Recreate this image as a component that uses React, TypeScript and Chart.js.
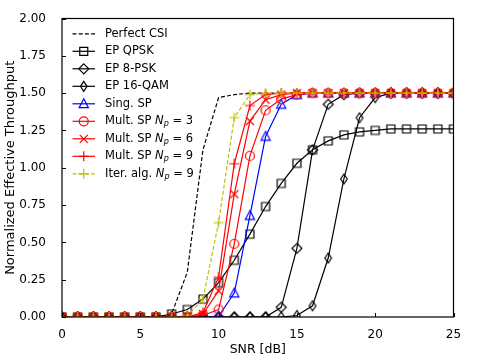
import React, { useEffect, useRef } from "react";
import { Chart, registerables } from "chart.js";

Chart.register(...registerables);

// ---------------- data ----------------
const snr = [0, 1, 2, 3, 4, 5, 6, 7, 8, 9, 10, 11, 12, 13, 14, 15, 16, 17, 18, 19, 20, 21, 22, 23, 24, 25];

const perfectCSI = [0, 0, 0, 0, 0, 0, 0, 0.02, 0.3, 1.12, 1.47, 1.49, 1.5, 1.5, 1.5, 1.5, 1.5, 1.5, 1.5, 1.5, 1.5, 1.5, 1.5, 1.5, 1.5, 1.5];
const epQPSK = [0, 0, 0, 0, 0, 0, 0, 0.02, 0.05, 0.12, 0.23, 0.38, 0.555, 0.74, 0.895, 1.03, 1.12, 1.18, 1.22, 1.24, 1.25, 1.26, 1.26, 1.26, 1.26, 1.26];
const ep8PSK = [0, 0, 0, 0, 0, 0, 0, 0, 0, 0, 0, 0, 0, 0, 0.065, 0.46, 1.12, 1.425, 1.49, 1.5, 1.5, 1.5, 1.5, 1.5, 1.5, 1.5];
const ep16QAM = [0, 0, 0, 0, 0, 0, 0, 0, 0, 0, 0, 0, 0, 0, 0, 0.01, 0.075, 0.395, 0.925, 1.335, 1.47, 1.5, 1.5, 1.5, 1.5, 1.5];
const singSP = [0, 0, 0, 0, 0, 0, 0, 0, 0, 0, 0.005, 0.16, 0.68, 1.21, 1.425, 1.49, 1.5, 1.5, 1.5, 1.5, 1.5, 1.5, 1.5, 1.5, 1.5, 1.5];
const multSP3 = [0, 0, 0, 0, 0, 0, 0, 0, 0, 0.01, 0.05, 0.49, 1.08, 1.385, 1.46, 1.49, 1.5, 1.5, 1.5, 1.5, 1.5, 1.5, 1.5, 1.5, 1.5, 1.5];
const multSP6 = [0, 0, 0, 0, 0, 0, 0, 0, 0, 0.02, 0.175, 0.823, 1.313, 1.456, 1.49, 1.5, 1.5, 1.5, 1.5, 1.5, 1.5, 1.5, 1.5, 1.5, 1.5, 1.5];
const multSP9 = [0, 0, 0, 0, 0, 0, 0, 0, 0, 0.03, 0.267, 1.027, 1.417, 1.49, 1.5, 1.5, 1.5, 1.5, 1.5, 1.5, 1.5, 1.5, 1.5, 1.5, 1.5, 1.5];
const iterAlg9 = [0, 0, 0, 0, 0, 0, 0, 0, 0.01, 0.12, 0.632, 1.336, 1.49, 1.5, 1.5, 1.5, 1.5, 1.5, 1.5, 1.5, 1.5, 1.5, 1.5, 1.5, 1.5, 1.5];

const seriesLabels = [
  "Perfect CSI",
  "EP QPSK",
  "EP 8-PSK",
  "EP 16-QAM",
  "Sing. SP",
  "Mult. SP $N_p$ = 3",
  "Mult. SP $N_p$ = 6",
  "Mult. SP $N_p$ = 9",
  "Iter. alg. $N_p$ = 9",
];
const seriesValues = [perfectCSI, epQPSK, ep8PSK, ep16QAM, singSP, multSP3, multSP6, multSP9, iterAlg9];
const seriesColors = ["#000000", "#000000", "#000000", "#000000", "#0000ff", "#ff0000", "#ff0000", "#ff0000", "#bfbf00"];
const seriesMarkers = ["", "s", "D", "d", "^", "o", "x", "+", "+"];
const seriesDashed = [true, false, false, false, false, false, false, false, true];

const xTicks = [0, 5, 10, 15, 20, 25];
const yTicks = [0, 0.25, 0.5, 0.75, 1.0, 1.25, 1.5, 1.75, 2.0];
const xTitle = "SNR [dB]";
const yTitle = "Normalized Effective Throughput";

const FONT = '"DejaVu Sans", sans-serif';
const DASH = [4, 2.2];

// ---------------- markers ----------------
function drawMarker(ctx: CanvasRenderingContext2D, kind: string, x: number, y: number, color: string) {
  ctx.save();
  ctx.strokeStyle = color;
  ctx.lineWidth = 1.2;
  ctx.setLineDash([]);
  ctx.beginPath();
  if (kind === "s") {
    ctx.rect(x - 4, y - 4, 8, 8);
  } else if (kind === "D") {
    ctx.moveTo(x, y - 5);
    ctx.lineTo(x + 5, y);
    ctx.lineTo(x, y + 5);
    ctx.lineTo(x - 5, y);
    ctx.closePath();
  } else if (kind === "d") {
    ctx.moveTo(x, y - 5);
    ctx.lineTo(x + 3.3, y);
    ctx.lineTo(x, y + 5);
    ctx.lineTo(x - 3.3, y);
    ctx.closePath();
  } else if (kind === "^") {
    ctx.moveTo(x, y - 5);
    ctx.lineTo(x + 4.6, y + 3.8);
    ctx.lineTo(x - 4.6, y + 3.8);
    ctx.closePath();
  } else if (kind === "o") {
    ctx.arc(x, y, 4.5, 0, Math.PI * 2);
  } else if (kind === "x") {
    ctx.moveTo(x - 4, y - 4);
    ctx.lineTo(x + 4, y + 4);
    ctx.moveTo(x - 4, y + 4);
    ctx.lineTo(x + 4, y - 4);
  } else if (kind === "+") {
    ctx.moveTo(x - 5, y);
    ctx.lineTo(x + 5, y);
    ctx.moveTo(x, y - 5);
    ctx.lineTo(x, y + 5);
  }
  ctx.stroke();
  ctx.restore();
}

function markerCanvas(kind: string, color: string): HTMLCanvasElement {
  const c = document.createElement("canvas");
  c.width = 14;
  c.height = 14;
  const ctx = c.getContext("2d")!;
  drawMarker(ctx, kind, 7, 7, color);
  return c;
}

// ---------------- legend text with math ----------------
function drawRichLabel(ctx: CanvasRenderingContext2D, label: string, x: number, y: number, size: number) {
  const parts = label.split("$");
  let cx = x;
  parts.forEach((p, i) => {
    if (i % 2 === 0) {
      ctx.font = `${size}px ${FONT}`;
      ctx.fillText(p, cx, y);
      cx += ctx.measureText(p).width;
    } else {
      const [base, sub] = p.split("_");
      ctx.font = `italic ${size}px ${FONT}`;
      ctx.fillText(base, cx, y);
      cx += ctx.measureText(base).width;
      if (sub) {
        ctx.font = `italic ${size * 0.7}px ${FONT}`;
        ctx.fillText(sub, cx, y + size * 0.25);
        cx += ctx.measureText(sub).width;
      }
    }
  });
}

const framePlugin = {
  id: "frameAndLegend",
  afterDatasetsDraw(chart: any) {
    const { ctx, chartArea: a, scales } = chart;
    ctx.save();
    ctx.strokeStyle = "#000";
    ctx.lineWidth = 1;
    ctx.setLineDash([]);
    // inward ticks
    ctx.beginPath();
    xTicks.forEach((v) => {
      const px = Math.round(scales.x.getPixelForValue(v)) + 0.5;
      ctx.moveTo(px, a.bottom);
      ctx.lineTo(px, a.bottom - 4);
    });
    yTicks.forEach((v) => {
      const py = Math.round(scales.y.getPixelForValue(v)) + 0.5;
      ctx.moveTo(a.left, py);
      ctx.lineTo(a.left + 4, py);
    });
    ctx.stroke();
    ctx.lineWidth = 1.2;
    ctx.strokeRect(a.left, a.top, a.right - a.left, a.bottom - a.top);

    // legend
    const x0 = a.left + 10.5;
    const x1 = a.left + 33;
    const xm = (x0 + x1) / 2;
    const xt = a.left + 43;
    const yStart = a.top + 15.3;
    const dy = 17.5;
    ctx.textBaseline = "middle";
    ctx.textAlign = "left";
    ctx.fillStyle = "#000";
    seriesLabels.forEach((lab, i) => {
      const yy = yStart + i * dy;
      ctx.beginPath();
      ctx.strokeStyle = seriesColors[i];
      ctx.lineWidth = 1.2;
      ctx.setLineDash(seriesDashed[i] ? DASH : []);
      ctx.moveTo(x0, yy);
      ctx.lineTo(x1, yy);
      ctx.stroke();
      ctx.setLineDash([]);
      if (seriesMarkers[i]) drawMarker(ctx, seriesMarkers[i], xm, yy, seriesColors[i]);
      ctx.fillStyle = "#000";
      drawRichLabel(ctx, lab, xt, yy, 11.5);
    });
    ctx.restore();
  },
};

export default function App() {
  const ref = useRef<HTMLCanvasElement | null>(null);

  useEffect(() => {
    document.body.style.margin = "0";
    const canvas = ref.current!;
    const datasets = seriesLabels.map((label, i) => ({
      label,
      data: snr.map((x, j) => ({ x, y: seriesValues[i][j] })),
      borderColor: seriesColors[i],
      backgroundColor: "transparent",
      borderWidth: 1.2,
      borderDash: seriesDashed[i] ? DASH : [],
      pointStyle: seriesMarkers[i] ? markerCanvas(seriesMarkers[i], seriesColors[i]) : "circle",
      pointRadius: seriesMarkers[i] ? 5 : 0,
      pointHoverRadius: seriesMarkers[i] ? 5 : 0,
      tension: 0,
      fill: false,
      clip: 0,
      order: seriesLabels.length - i,
    }));

    const chart = new Chart(canvas, {
      type: "line",
      data: { datasets },
      options: {
        animation: false,
        responsive: false,
        devicePixelRatio: 1,
        layout: { padding: { left: 0, right: 24.5, top: 18.5, bottom: 0 } },
        plugins: { legend: { display: false }, tooltip: { enabled: false } },
        scales: {
          x: {
            type: "linear",
            min: 0,
            max: 25,
            afterFit: (s: any) => {
              s.height = 44;
            },
            afterBuildTicks: (s: any) => {
              s.ticks = xTicks.map((v) => ({ value: v }));
            },
            ticks: {
              padding: 3,
              color: "#000",
              font: { family: FONT, size: 12 },
              callback: (v: any) => String(v),
            },
            grid: { display: false },
            border: { display: false },
            title: {
              display: true,
              text: xTitle,
              color: "#000",
              font: { family: FONT, size: 12.5 },
              padding: { top: 0, bottom: 4 },
            },
          },
          y: {
            type: "linear",
            min: 0,
            max: 2,
            afterFit: (s: any) => {
              s.width = 62;
            },
            afterBuildTicks: (s: any) => {
              s.ticks = yTicks.map((v) => ({ value: v }));
            },
            ticks: {
              padding: 8,
              color: "#000",
              font: { family: FONT, size: 12 },
              callback: (v: any) => Number(v).toFixed(2),
            },
            grid: { display: false },
            border: { display: false },
            title: {
              display: true,
              text: yTitle,
              color: "#000",
              font: { family: FONT, size: 13 },
              padding: { top: 3, bottom: 0 },
            },
          },
        },
      },
      plugins: [framePlugin],
    });
    return () => chart.destroy();
  }, []);

  return (
    <div style={{ width: 478, height: 361, background: "#fff" }}>
      <canvas ref={ref} width={478} height={361} style={{ display: "block" }} />
    </div>
  );
}
